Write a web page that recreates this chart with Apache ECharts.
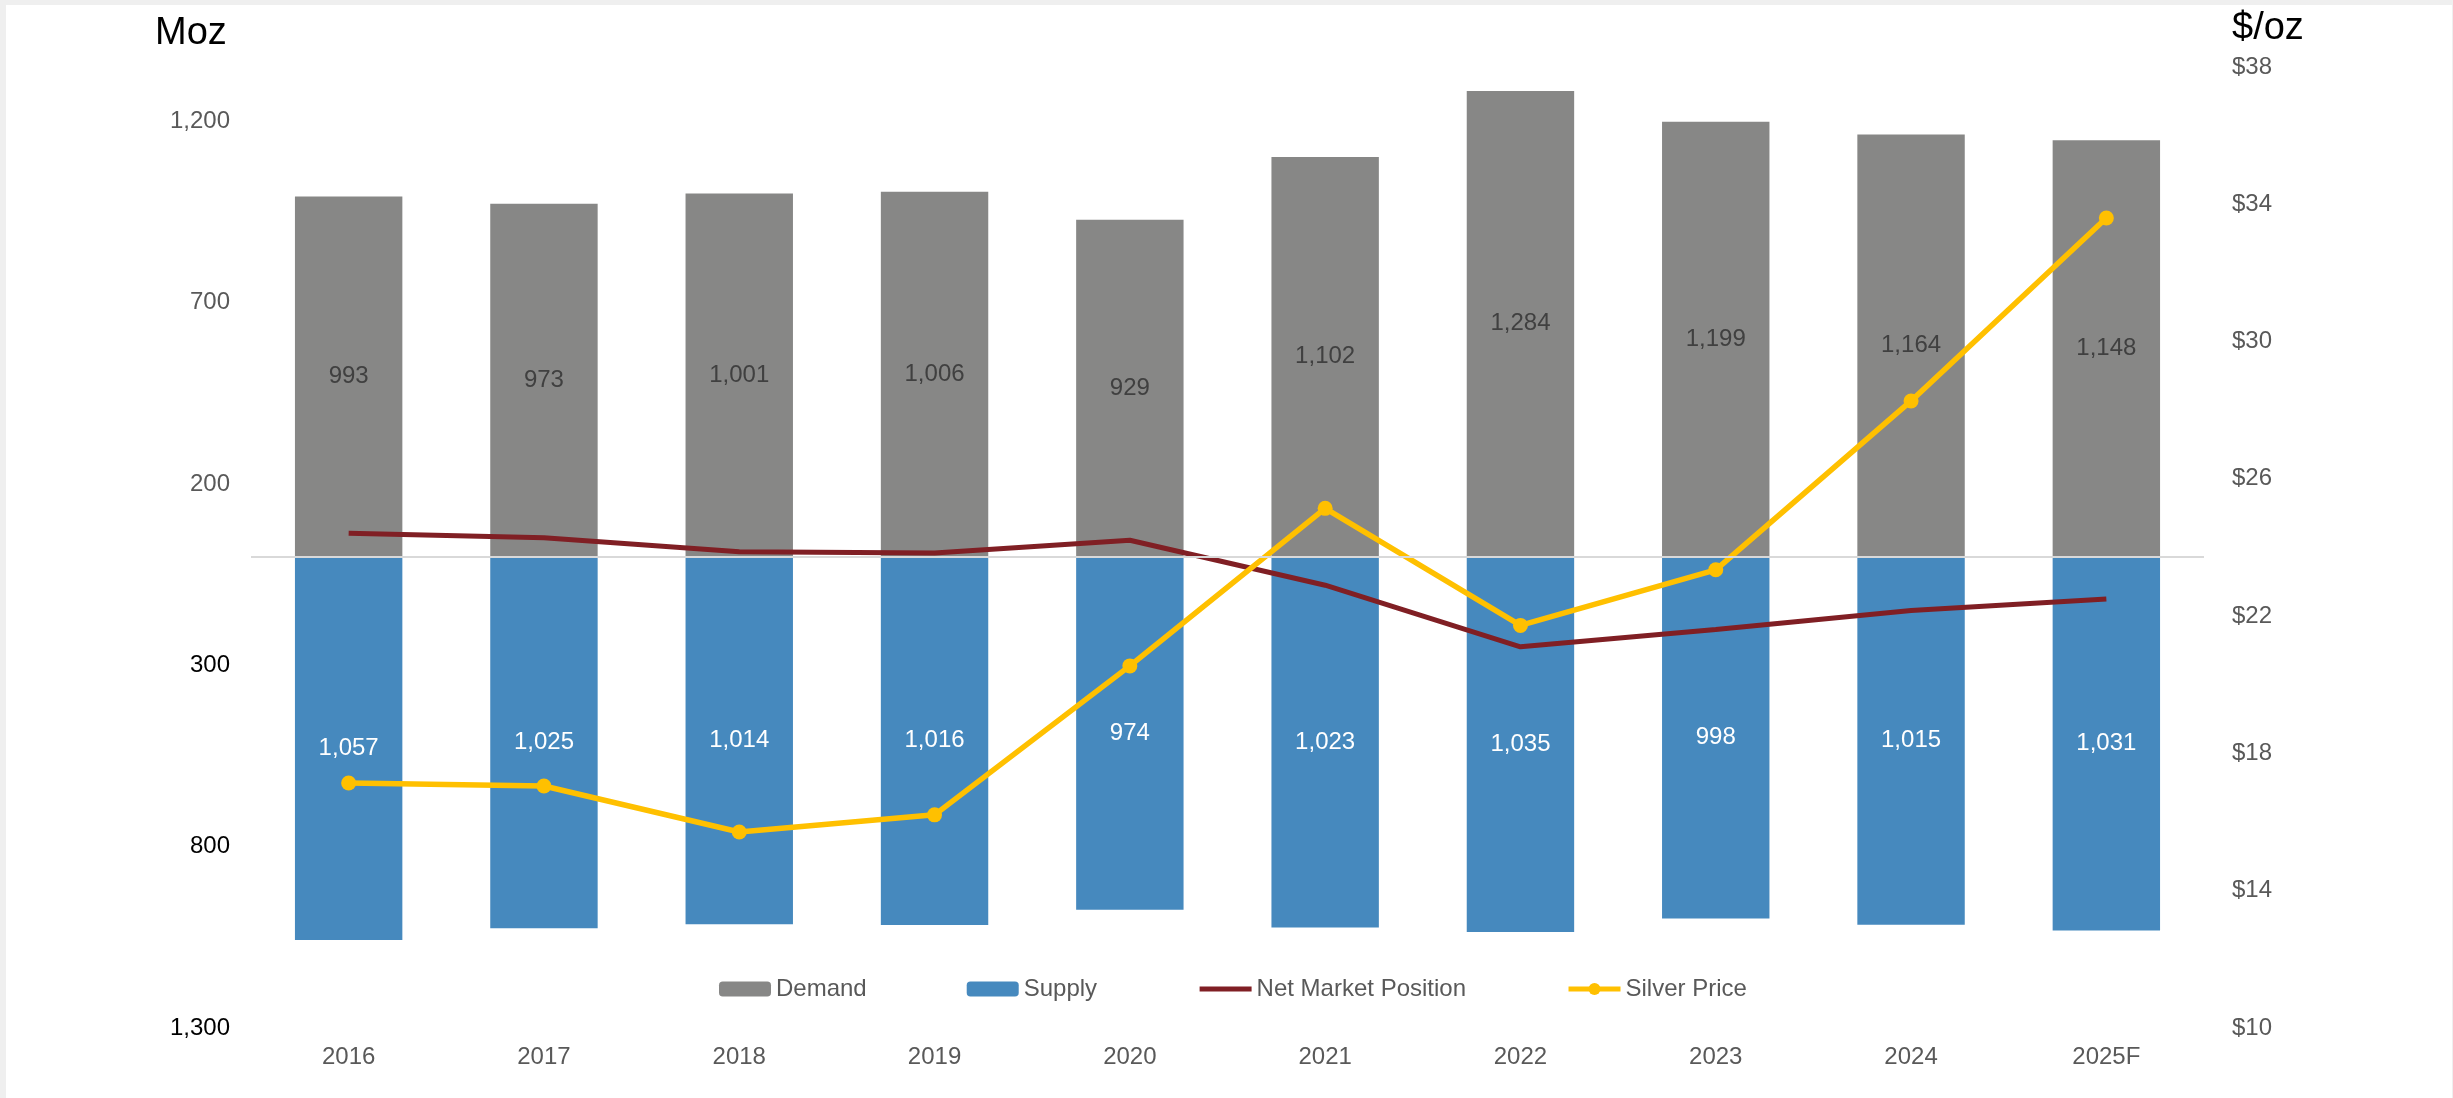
<!DOCTYPE html>
<html><head><meta charset="utf-8">
<script src="https://cdn.jsdelivr.net/npm/echarts@6/dist/echarts.min.js"></script>
<style>
html,body{margin:0;padding:0;background:#efefef;width:2453px;height:1098px;overflow:hidden}
#c{position:absolute;left:6px;top:5px;width:2446px;height:1093px;background:#fff}
</style></head><body><div id="c"></div>
<script>
// ---- data ----
const years = ['2016','2017','2018','2019','2020','2021','2022','2023','2024','2025F'];
const demand = [993, 973, 1001, 1006, 929, 1102, 1284, 1199, 1164, 1148];
const supply = [1057, 1025, 1014, 1016, 974, 1023, 1035, 998, 1015, 1031];
const netMarketPosition = [64, 52, 13, 10, 45, -79, -249, -201, -149, -117];
const silverPrice = [17.14, 17.05, 15.71, 16.21, 20.55, 25.14, 21.73, 23.35, 28.27, 33.60];
const leftAxisRange = [-1300, 1350];   // Moz (labels shown as absolute values)
const leftAxisStep = 500;
const rightAxisRange = [10, 38];       // $/oz
const rightAxisStep = 4;

const FONT = '"Liberation Sans", Arial, sans-serif';
const fmt = v => Math.abs(Number(v)).toLocaleString('en-US');

const chart = echarts.init(document.getElementById('c'));
chart.setOption({
  animation: false,
  backgroundColor: '#ffffff',
  textStyle: { fontFamily: FONT },
  grid: { left: 245, right: 248, top: 62, bottom: 70 },
  legend: {
    left: 708, top: 967,
    itemWidth: 52, itemHeight: 15, itemGap: 100,
    lineStyle: { width: 5 },
    textStyle: { color: '#595959', fontSize: 24, fontFamily: FONT },
    data: [
      'Demand', 'Supply',
      { name: 'Net Market Position', itemStyle: { color: 'rgba(0,0,0,0)', borderWidth: 0, opacity: 0 } },
      'Silver Price'
    ]
  },
  graphic: [
    { type: 'text', left: 149, top: 10, style: { text: 'Moz', fill: '#000', font: '38px ' + FONT } },
    { type: 'text', left: 2226, top: 5, style: { text: '$/oz', fill: '#000', font: '38px ' + FONT } }
  ],
  xAxis: {
    type: 'category', data: years,
    axisLine: { show: false }, axisTick: { show: false },
    axisLabel: { color: '#595959', fontSize: 24, margin: 17, fontFamily: FONT },
    splitLine: { show: false }
  },
  yAxis: [
    {
      type: 'value', min: leftAxisRange[0], max: leftAxisRange[1], interval: leftAxisStep,
      axisLine: { show: false }, axisTick: { show: false }, splitLine: { show: false },
      axisLabel: {
        showMaxLabel: false, margin: 21, fontSize: 24, fontFamily: FONT,
        formatter: v => fmt(v),
        color: v => (Number(v) < 0 ? '#000000' : '#595959')
      }
    },
    {
      type: 'value', min: rightAxisRange[0], max: rightAxisRange[1], interval: rightAxisStep,
      position: 'right',
      axisLine: { show: false }, axisTick: { show: false }, splitLine: { show: false },
      axisLabel: { margin: 28, fontSize: 24, color: '#595959', fontFamily: FONT, formatter: v => '$' + v }
    }
  ],
  series: [
    {
      name: 'Demand', type: 'bar', stack: 'ds', barWidth: '55%',
      data: demand,
      itemStyle: { color: '#878786' },
      label: { show: true, position: 'inside', color: '#404040', fontSize: 24, fontFamily: FONT, formatter: p => fmt(p.value) },
      markLine: {
        silent: true, symbol: ['none', 'none'],
        label: { show: false },
        lineStyle: { color: '#d9d9d9', width: 2, type: 'solid' },
        data: [{ yAxis: 0 }]
      }
    },
    {
      name: 'Supply', type: 'bar', stack: 'ds', barWidth: '55%',
      data: supply.map(v => -v),
      itemStyle: { color: '#4689be' },
      label: { show: true, position: 'inside', color: '#ffffff', fontSize: 24, fontFamily: FONT, formatter: p => fmt(p.value) }
    },
    {
      name: 'Net Market Position', type: 'line', yAxisIndex: 0,
      data: netMarketPosition,
      symbol: 'none', showSymbol: false,
      lineStyle: { color: '#801f24', width: 5 },
      itemStyle: { color: '#801f24' },
      z: 3
    },
    {
      name: 'Silver Price', type: 'line', yAxisIndex: 1,
      data: silverPrice,
      symbol: 'circle', symbolSize: 15,
      lineStyle: { color: '#ffc000', width: 5.5 },
      itemStyle: { color: '#ffc000' },
      z: 4
    }
  ]
});
</script></body></html>
